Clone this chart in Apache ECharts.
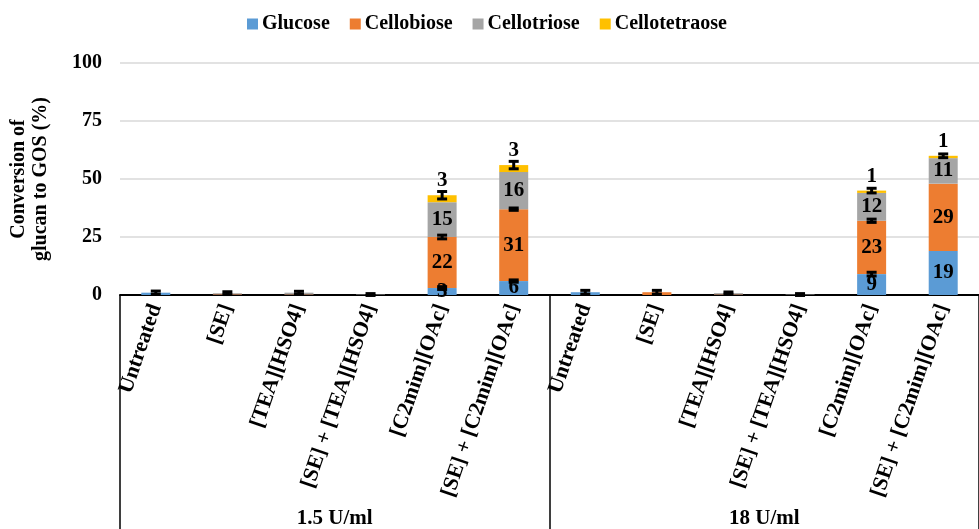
<!DOCTYPE html>
<html><head><meta charset="utf-8">
<script src="https://cdn.jsdelivr.net/npm/echarts@6/dist/echarts.min.js"></script>
<style>html,body{margin:0;padding:0;background:#fff}#c{width:979px;height:529px}</style>
</head><body><div id="c"></div>
<script>
const categories = ['Untreated','[SE]','[TEA][HSO4]','[SE] + [TEA][HSO4]','[C2mim][OAc]','[SE] + [C2mim][OAc]',
                    'Untreated','[SE]','[TEA][HSO4]','[SE] + [TEA][HSO4]','[C2mim][OAc]','[SE] + [C2mim][OAc]'];
const groups = ['1.5 U/ml','18 U/ml'];
const glucose       = [1.0, 0.2, 0.2, 0,   3,  6, 1.2, 0,   0.2, 0,   9, 19];
const cellobiose    = [0,   0.3, 0.2, 0,  22, 31, 0,   1.2, 0.2, 0,  23, 29];
const cellotriose   = [0,   0.3, 0.6, 0.2,15, 16, 0,   0,   0.4, 0.2,12, 11];
const cellotetraose = [0,   0,   0,   0,   3,  3, 0,   0,   0,   0,   1,  1];
// error half-widths at top of glucose, top of cellobiose and top of stack
const errGlucose    = [0,   0,   0,   0,  0.6,0.5, 0,  0,   0,   0,  0.8, 0];
const errCellobiose = [0,   0,   0,   0,  0.8,0.5, 0,  0,   0,   0,  0.7, 0];
const errTotal      = [0.7, 0.6, 0.6, 0.4,1.6,1.6,0.8, 0.8, 0.5, 0.4,1.0, 0.8];
const yTicks = [0,25,50,75,100];

const FONT = 'Liberation Serif';
const colors = ['#5B9BD5','#ED7D31','#A5A5A5','#FFC000'];
const names = ['Glucose','Cellobiose','Cellotriose','Cellotetraose'];
const seriesData = [glucose, cellobiose, cellotriose, cellotetraose];

const errData = [];
categories.forEach((c,i)=>{
  const g = glucose[i], b = g + cellobiose[i];
  const t = b + cellotriose[i] + cellotetraose[i];
  if (errGlucose[i] > 0) errData.push([i, g, errGlucose[i]]);
  if (errCellobiose[i] > 0) errData.push([i, b, errCellobiose[i]]);
  if (errTotal[i] > 0) errData.push([i, t, errTotal[i]]);
});

const chart = echarts.init(document.getElementById('c'));
const barSeries = seriesData.map((d,k)=>({
  name: names[k], type:'bar', stack:'a', data:d, barWidth:29,
  itemStyle:{color:colors[k]},
  label:{show:true, position: k===3 ? 'top' : 'inside', distance: k===3 ? 4 : 5,
    fontFamily:FONT, fontWeight:'bold', fontSize:21, color:'#000',
    formatter: p => (p.value >= 2 || (k===3 && p.value >= 1)) ? String(Math.round(p.value)) : ''}
}));
chart.setOption({
  animation:false,
  legend:{top:9, left:242, itemWidth:11, itemHeight:11, itemGap:20, icon:'rect',
    textStyle:{fontFamily:FONT, fontWeight:'bold', fontSize:20, color:'#000', padding:[0,0,0,-1]}, data:names},
  grid:{left:116, right:-13, top:63, bottom:232},
  xAxis:[
    {type:'category', data:categories, position:'bottom',
     axisLine:{lineStyle:{color:'#000', width:2}}, axisTick:{show:false},
     axisLabel:{interval:0, rotate:71, margin:10, fontFamily:FONT, fontWeight:'bold', fontSize:21.5, color:'#000'}},
    {type:'category', data:groups, position:'bottom',
     axisLine:{show:false}, axisTick:{show:true, length:240, lineStyle:{color:'#000', width:1.5}},
     axisLabel:{margin:213, fontFamily:FONT, fontWeight:'bold', fontSize:21, color:'#000'}}
  ],
  yAxis:{type:'value', min:0, max:100, interval:25,
    name:'Conversion of\nglucan to GOS (%)', nameLocation:'middle', nameGap:68, nameRotate:90,
    nameTextStyle:{fontFamily:FONT, fontWeight:'bold', fontSize:20, color:'#000', lineHeight:22},
    axisLine:{show:false}, axisTick:{show:false},
    axisLabel:{margin:18, fontFamily:FONT, fontWeight:'bold', fontSize:20, color:'#000'},
    splitLine:{lineStyle:{color:'#d9d9d9', width:1.5}}},
  series: barSeries.concat([{
    type:'custom', name:'err', xAxisIndex:0, data:errData, z:10,
    encode:{x:0, y:1},
    renderItem:(params, api)=>{
      const x = api.value(0), y = api.value(1), e = api.value(2);
      const lo = api.coord([x, y - e]), hi = api.coord([x, y + e]);
      const w = 5;
      const st = {stroke:'#000', lineWidth:3};
      return {type:'group', children:[
        {type:'line', shape:{x1:lo[0], y1:lo[1], x2:hi[0], y2:hi[1]}, style:st},
        {type:'line', shape:{x1:lo[0]-w, y1:lo[1], x2:lo[0]+w, y2:lo[1]}, style:st},
        {type:'line', shape:{x1:hi[0]-w, y1:hi[1], x2:hi[0]+w, y2:hi[1]}, style:st}
      ]};
    }
  }])
});
</script></body></html>
